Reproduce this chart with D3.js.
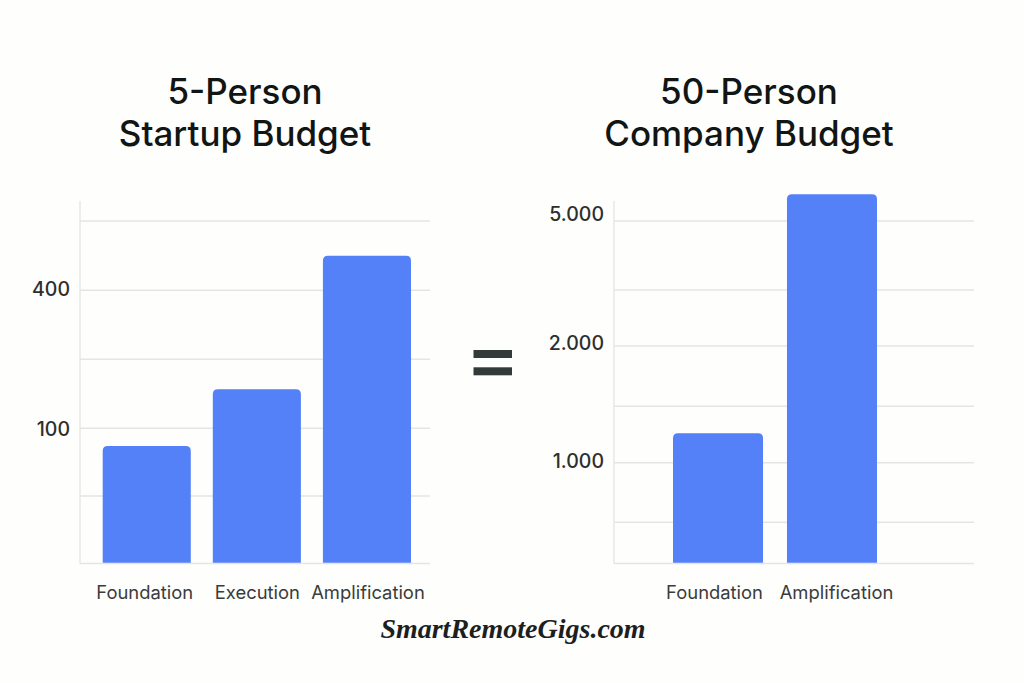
<!DOCTYPE html>
<html>
<head>
<meta charset="utf-8">
<script src="https://cdn.jsdelivr.net/npm/d3@7"></script>
<style>
  body { margin: 0; background: #fefefd; }
  svg { display: block; }
  .title { font-family: Inter, sans-serif; font-size: 35px; font-weight: 500; fill: #111513; text-anchor: middle; }
  .tick-y { font-family: Inter, sans-serif; font-size: 19.5px; font-weight: 500; fill: #2d2f2e; }
  .tick-x { font-family: Inter, sans-serif; font-size: 18.4px; font-weight: 400; fill: #3a3c3c; }
  .brand { font-family: "Liberation Serif", serif; font-style: italic; font-weight: 700; font-size: 28px; fill: #1d1f1f; text-anchor: middle; }
</style>
</head>
<body>
<div id="app"></div>
<script>
// left chart
let leftCategories = ["Foundation", "Execution", "Amplification"];
let leftValues = [87, 185, 475];
let leftGrid = [0, 50, 100, 250, 400, 550];
let leftLabels = [100, 400];

// right chart
let rightCategories = ["Foundation", "Amplification"];
let rightValues = [1260, 5580];
let rightGrid = [0, 500, 1000, 1500, 2000, 3500, 5000];
let rightLabels = [1000, 2000, 5000];

let width = 1024,
  height = 683;

let svg = d3
  .select("#app")
  .append("svg")
  .attr("width", width)
  .attr("height", height);

// gridlines aren't evenly spaced against the values, so the scale is piecewise
function drawPanel(opt) {
  let y = d3.scaleLinear().domain(opt.grid).range(opt.gridY);
  let x = d3
    .scaleBand()
    .domain(opt.categories)
    .range(opt.barRange)
    .paddingInner(opt.padding);

  let g = svg.append("g");

  // grid
  g.append("g")
    .selectAll("line")
    .data(opt.grid)
    .enter()
    .append("line")
    .attr("x1", opt.left)
    .attr("x2", opt.right)
    .attr("y1", (d) => y(d))
    .attr("y2", (d) => y(d))
    .style("stroke", "#e4e5e6")
    .style("stroke-width", 1.4);

  // y axis line
  g.append("line")
    .attr("x1", opt.left)
    .attr("x2", opt.left)
    .attr("y1", 201)
    .attr("y2", y(0))
    .style("stroke", "#e4e5e6")
    .style("stroke-width", 1.4);

  // bars, rounded on top only
  let r = 5;
  g.append("g")
    .selectAll("path")
    .data(opt.values)
    .enter()
    .append("path")
    .attr("fill", "#5480f8")
    .attr("d", (d, i) => {
      let x0 = x(opt.categories[i]),
        w = x.bandwidth(),
        top = y(d),
        base = y(0) - 0.7;
      return (
        "M" + x0 + "," + base +
        "V" + (top + r) +
        "Q" + x0 + "," + top + " " + (x0 + r) + "," + top +
        "H" + (x0 + w - r) +
        "Q" + (x0 + w) + "," + top + " " + (x0 + w) + "," + (top + r) +
        "V" + base + "Z"
      );
    });

  // y labels
  let yAxis = g
    .append("g")
    .attr("transform", "translate(" + opt.left + ",0)")
    .call(
      d3
        .axisLeft(y)
        .tickValues(opt.labels)
        .tickFormat(opt.format)
        .tickSize(0)
        .tickPadding(10)
    );
  yAxis.select(".domain").remove();
  yAxis.attr("font-size", null).attr("font-family", null);
  yAxis
    .selectAll("text")
    .attr("class", "tick-y")
    .attr("dy", "0.3em")
    .attr("y", (d, i) => opt.labelLift[i]);

  // x labels
  let xAxis = g
    .append("g")
    .attr("transform", "translate(0," + y(0) + ")")
    .call(d3.axisBottom(x).tickSize(0).tickPadding(22));
  xAxis.select(".domain").remove();
  xAxis.attr("font-size", null).attr("font-family", null);
  xAxis
    .selectAll("text")
    .attr("class", "tick-x")
    .attr("dx", (d, i) => opt.labelNudge[i]);

  // title
  let title = svg.append("text").attr("class", "title");
  opt.title.forEach((t, i) => {
    title
      .append("tspan")
      .attr("x", opt.titleX)
      .attr("y", 104 + i * 41.5)
      .text(t);
  });
}

drawPanel({
  categories: leftCategories,
  values: leftValues,
  grid: leftGrid,
  gridY: [563.5, 496, 428.3, 359.3, 290.3, 221],
  labels: leftLabels,
  labelLift: [1, -1],
  format: d3.format("d"),
  left: 80,
  right: 430,
  barRange: [102.7, 411],
  padding: 0.2,
  labelNudge: [-2, 0.5, 1],
  title: ["5-Person", "Startup Budget"],
  titleX: 245,
});

drawPanel({
  categories: rightCategories,
  values: rightValues,
  grid: rightGrid,
  gridY: [563.5, 522.3, 462.7, 406.3, 346, 290, 221],
  labels: rightLabels,
  labelLift: [-1.5, -2, -6.5],
  format: (d) => d3.format(",")(d).replace(",", "."),
  left: 614,
  right: 974,
  barRange: [673, 877],
  padding: 0.21,
  labelNudge: [-3.5, 4.5],
  title: ["50-Person", "Company Budget"],
  titleX: 749,
});

// equals sign
svg
  .append("g")
  .selectAll("rect")
  .data([350, 367.3])
  .enter()
  .append("rect")
  .attr("x", 473.5)
  .attr("y", (d) => d)
  .attr("width", 38.5)
  .attr("height", 8)
  .attr("fill", "#343a3a");

svg
  .append("text")
  .attr("class", "brand")
  .attr("x", 513)
  .attr("y", 638)
  .text("SmartRemoteGigs.com");
</script>
</body>
</html>
